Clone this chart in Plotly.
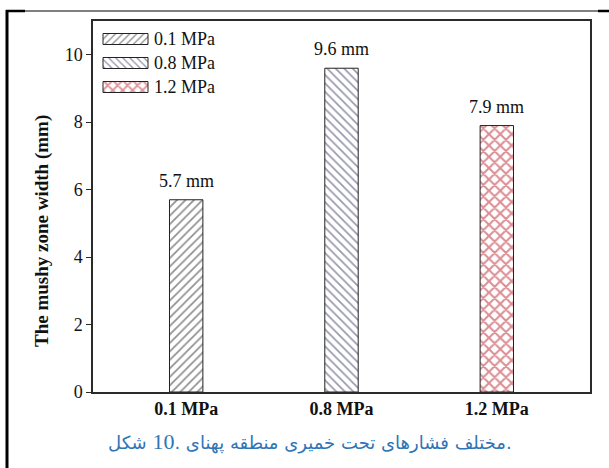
import plotly.graph_objects as go

# Mushy zone width at each casting pressure
pressures = ["0.1 MPa", "0.8 MPa", "1.2 MPa"]
widths_mm = [5.7, 9.6, 7.9]
y_ticks = [0, 2, 4, 6, 8, 10]

patterns = ["/", "\\", "x"]
pattern_colors = ["#222222", "#30305a", "#b81e2a"]
pattern_sizes = [6, 6, 8]
pattern_solidity = [0.28, 0.28, 0.45]

SERIF = "Liberation Serif"
INK = "#111111"

# Plot-area geometry in pixels
L, T, W, H = 93, 21, 497, 371
def px(x):
    return (x - L) / W
def py(y):
    return (T + H - y) / H

fig = go.Figure()
for i, (p, w) in enumerate(zip(pressures, widths_mm)):
    fig.add_trace(go.Bar(
        x=[p], y=[w], name=p, width=0.215, showlegend=False,
        marker=dict(
            color="white",
            line=dict(color="#222222", width=1),
            pattern=dict(shape=patterns[i], fgcolor=pattern_colors[i],
                         bgcolor="white", size=pattern_sizes[i],
                         solidity=pattern_solidity[i]),
        ),
    ))
    fig.add_annotation(x=p, y=w, text=f"{w} mm", showarrow=False,
                       yanchor="bottom", yshift=7,
                       font=dict(family=SERIF, size=18, color=INK))

# Legend keys: wide hatched swatches drawn on a pixel-scaled overlay axis
key_x0, key_len, key_h = 103 - L, 45, 11
key_rows = [39, 63, 87]
for i, p in enumerate(pressures):
    yc = T + H - key_rows[i]
    fig.add_trace(go.Bar(
        x=[key_len], y=[yc], base=[key_x0], orientation="h", width=key_h,
        xaxis="x2", yaxis="y2", showlegend=False, hoverinfo="skip",
        marker=dict(
            color="white",
            line=dict(color="#222222", width=1),
            pattern=dict(shape=patterns[i], fgcolor=pattern_colors[i],
                         bgcolor="white", size=pattern_sizes[i] - 1,
                         solidity=pattern_solidity[i]),
        ),
    ))
    fig.add_annotation(xref="paper", yref="paper", x=px(152), y=py(key_rows[i]),
                       text=p, showarrow=False, xanchor="left", yanchor="middle",
                       font=dict(family=SERIF, size=18, color=INK))

# Y-axis title
fig.add_annotation(xref="paper", yref="paper", x=px(42), y=py(231),
                   text="<b>The mushy zone width (mm)</b>", textangle=-90,
                   showarrow=False, xanchor="center", yanchor="middle",
                   font=dict(family=SERIF, size=19, color=INK))

# Outer page frame (thick left rule, thin top rule with heavier ends)
frame = "#000000"
fig.add_shape(type="line", xref="paper", yref="paper", x0=px(7), x1=px(609),
              y0=py(11), y1=py(11), line=dict(color=frame, width=1))
fig.add_shape(type="line", xref="paper", yref="paper", x0=px(6), x1=px(25),
              y0=py(11), y1=py(11), line=dict(color=frame, width=2.5))
fig.add_shape(type="line", xref="paper", yref="paper", x0=px(598), x1=px(609),
              y0=py(11), y1=py(11), line=dict(color=frame, width=2.5))
fig.add_shape(type="line", xref="paper", yref="paper", x0=px(7), x1=px(7),
              y0=py(10), y1=py(470), line=dict(color=frame, width=3))

# Caption (Persian); LRM marks keep the words running left to right
caption_words = ["شکل",
                 '<span style="font-family:Liberation Serif;font-size:22px">10</span>.',
                 "پهنای", "منطقه", "خمیری", "تحت", "فشارهای", "مختلف."]
caption = "\u200e" + "\u200e \u200e".join(caption_words) + "\u200e"
fig.add_annotation(xref="paper", yref="paper", x=px(310), y=py(442),
                   text=caption, showarrow=False, xanchor="center", yanchor="middle",
                   font=dict(family="DejaVu Sans", size=18, color="#2e75b6"))

fig.update_layout(
    width=609, height=468,
    margin=dict(l=L, r=609 - L - W, t=T, b=468 - T - H),
    paper_bgcolor="white", plot_bgcolor="white",
    showlegend=False,
    barmode="overlay",
    font=dict(family=SERIF, color=INK),
    xaxis=dict(
        range=[-0.6, 2.6], showline=True, linecolor="#2a2a2a", linewidth=1.5,
        mirror=True, ticks="", tickvals=pressures,
        ticktext=[f"<b>{p}</b>" for p in pressures],
        tickfont=dict(family=SERIF, size=18, color=INK), showgrid=False,
    ),
    yaxis=dict(
        range=[0, 11], showline=True, linecolor="#2a2a2a", linewidth=1.5,
        mirror=True, ticks="outside", ticklen=5, tickwidth=1, tickcolor="#2a2a2a",
        tickvals=y_ticks, tickfont=dict(family=SERIF, size=18, color=INK),
        showgrid=False, zeroline=False,
    ),
    xaxis2=dict(overlaying="x", range=[0, W], visible=False, fixedrange=True),
    yaxis2=dict(overlaying="y", range=[0, H], visible=False, fixedrange=True),
)

fig.write_html("out.html")
